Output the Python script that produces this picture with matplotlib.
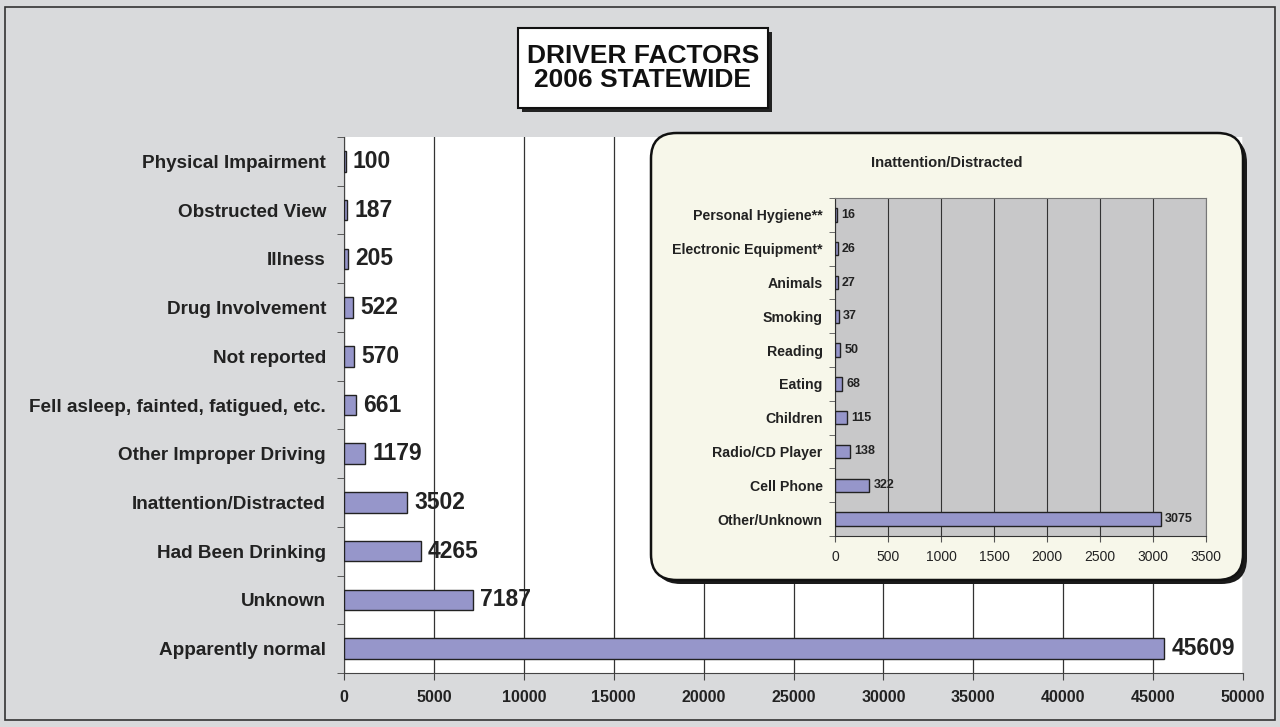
import numpy as np
import matplotlib
matplotlib.use("Agg")
import matplotlib.pyplot as plt
from matplotlib.patches import FancyBboxPatch, Rectangle

plt.rcParams['font.family'] = ['Liberation Sans', 'DejaVu Sans']

# main chart data (top to bottom)
factors = ['Physical Impairment', 'Obstructed View', 'Illness', 'Drug Involvement',
           'Not reported', 'Fell asleep, fainted, fatigued, etc.', 'Other Improper Driving',
           'Inattention/Distracted', 'Had Been Drinking', 'Unknown', 'Apparently normal']
counts = [100, 187, 205, 522, 570, 661, 1179, 3502, 4265, 7187, 45609]

# inset data (top to bottom)
distractions = ['Personal Hygiene**', 'Electronic Equipment*', 'Animals', 'Smoking',
                'Reading', 'Eating', 'Children', 'Radio/CD Player', 'Cell Phone',
                'Other/Unknown']
distraction_counts = [16, 26, 27, 37, 50, 68, 115, 138, 322, 3075]

bar_color = '#9696CA'
bg = '#D9DADC'

fig = plt.figure(figsize=(12.8, 7.27), dpi=100, facecolor=bg)

# outer border
fig.patches.append(Rectangle((5/1280, 7/727), 1270/1280, 713/727, transform=fig.transFigure,
                             fill=False, edgecolor='#333333', linewidth=1.2, zorder=0))

# ---- main chart
ax = fig.add_axes([344/1280, 1-673/727, 899/1280, 536/727])
ax.set_facecolor('white')
y = np.arange(len(factors))
ax.barh(y, counts, height=0.42, color=bar_color, edgecolor='#222222', linewidth=1.0, zorder=3)
ax.set_ylim(len(factors)-0.5, -0.5)
ax.set_xlim(0, 50000)
ax.set_xticks(np.arange(0, 50001, 5000))
ax.xaxis.grid(True, color='#333333', linewidth=0.9)
ax.set_axisbelow(True)
ax.set_yticks(y)
ax.set_yticklabels(factors, fontsize=13.6, fontweight='bold', color='#222222')
ax.set_yticks(np.arange(-0.5, len(factors)), minor=True)
ax.tick_params(axis='y', which='major', length=0, pad=13)
ax.tick_params(axis='y', which='minor', length=5, color='#444444', direction='out')
ax.tick_params(axis='x', length=5, color='#444444', pad=7)
for lbl in ax.get_xticklabels():
    lbl.set_fontsize(11.5)
    lbl.set_fontweight('bold')
    lbl.set_color('#222222')
for s in ['top', 'right']:
    ax.spines[s].set_visible(False)
ax.spines['left'].set_color('#444444')
ax.spines['bottom'].set_color('#444444')
for yi, v in zip(y, counts):
    ax.text(v + 400, yi, str(v), va='center', ha='left', fontsize=16.5,
            fontweight='bold', color='#222222', zorder=4)

# ---- title box
tx0, ty0, tw, th = 518/1280, 1-108/727, 250/1280, 80/727
fig.patches.append(Rectangle((tx0 + 4/1280, ty0 - 4/727), tw, th, transform=fig.transFigure,
                             facecolor='#222222', edgecolor='none', zorder=5))
fig.patches.append(Rectangle((tx0, ty0), tw, th, transform=fig.transFigure,
                             facecolor='white', edgecolor='#111111', linewidth=1.5, zorder=6))
fig.text(tx0 + tw/2, ty0 + th/2, 'DRIVER FACTORS\n2006 STATEWIDE', ha='center', va='center',
         fontsize=19, fontweight='bold', color='#111111', linespacing=0.95, zorder=7)

# ---- inset panel
px0, py0, pw, ph = 651/1280, 1-580/727, 592/1280, 447/727
rad = 0.02
fig.patches.append(FancyBboxPatch((px0 + 4/1280, py0 - 4/727), pw, ph,
                                  boxstyle=f'round,pad=0,rounding_size={rad}',
                                  transform=fig.transFigure, facecolor='#1a1a1a',
                                  edgecolor='none', zorder=8, mutation_aspect=1280/727))
fig.patches.append(FancyBboxPatch((px0, py0), pw, ph,
                                  boxstyle=f'round,pad=0,rounding_size={rad}',
                                  transform=fig.transFigure, facecolor='#F7F7EA',
                                  edgecolor='#111111', linewidth=1.8, zorder=9,
                                  mutation_aspect=1280/727))
fig.text(px0 + pw/2, 1-163/727, 'Inattention/Distracted', ha='center', va='center',
         fontsize=10.6, fontweight='bold', color='#222222', zorder=10)

ax2 = fig.add_axes([835/1280, 1-536/727, 371/1280, 338/727], zorder=10)
ax2.set_facecolor('#C8C8C9')
y2 = np.arange(len(distractions))
ax2.barh(y2, distraction_counts, height=0.4, color=bar_color, edgecolor='#222222',
         linewidth=1.0, zorder=3)
ax2.set_ylim(len(distractions)-0.5, -0.5)
ax2.set_xlim(0, 3500)
ax2.set_xticks(np.arange(0, 3501, 500))
ax2.xaxis.grid(True, color='#333333', linewidth=0.8)
ax2.set_axisbelow(True)
ax2.set_yticks(y2)
ax2.set_yticklabels(distractions, fontsize=10.2, fontweight='bold', color='#222222')
ax2.set_yticks(np.arange(-0.5, len(distractions)), minor=True)
ax2.tick_params(axis='y', which='major', length=0, pad=9)
ax2.tick_params(axis='y', which='minor', length=4, color='#555555', direction='out')
ax2.tick_params(axis='x', length=4, color='#555555', labelsize=10, labelcolor='#222222', pad=6)
for s in ['left', 'bottom', 'top', 'right']:
    ax2.spines[s].set_color('#777777')
ax2.spines['left'].set_color('#333333')
ax2.spines['bottom'].set_color('#333333')
for yi, v in zip(y2, distraction_counts):
    ax2.text(v + 40, yi, str(v), va='center', ha='left', fontsize=9,
             fontweight='bold', color='#222222', zorder=4)

fig.savefig('out.png', dpi=100, facecolor=bg)
